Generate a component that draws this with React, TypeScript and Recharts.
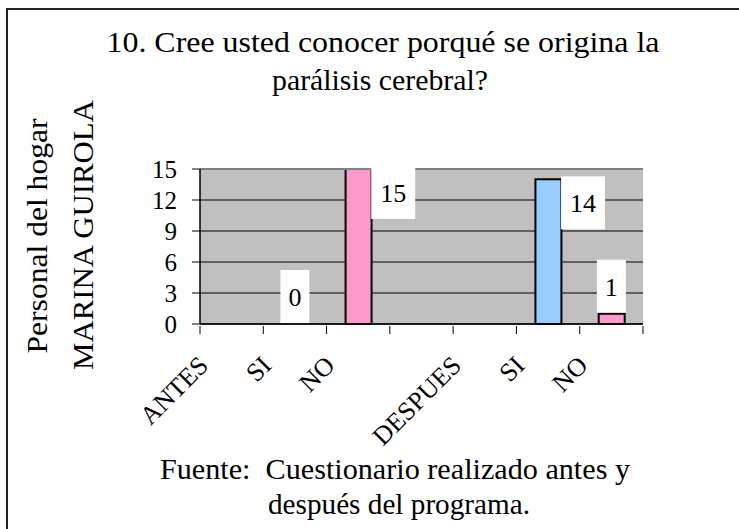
import { Bar, CartesianGrid, Cell, ComposedChart, Line, ReferenceLine, XAxis, YAxis } from "recharts"

const categories = ["ANTES", "SI", "NO", "", "DESPUES", "SI", "NO"]
const counts = [null, 0, 15, null, null, 14, 1]
const yTicks = [0, 3, 6, 9, 12, 15]
const answerColors: Record<string, string> = { SI: "#99CCFF", NO: "#FF99CC" }

const titleLines = ["10. Cree usted conocer porqué se origina la", "parálisis cerebral?"]
const yTitleLines = ["Personal del hogar", "MARINA GUIROLA"]
const sourceLines = ["Fuente:  Cuestionario realizado antes y", "después del programa."]

const data = categories.map((name, i) => ({ name, value: counts[i] }))

const W = 739
const H = 529
const PLOT_LEFT = 200
const PLOT_RIGHT = 643
const PLOT_TOP = 169
const PLOT_BOTTOM = 324
const BAND = (PLOT_RIGHT - PLOT_LEFT) / categories.length
const BAR = 26
const FONT = "'Liberation Serif', 'Times New Roman', serif"
const serif = { fontFamily: FONT, whiteSpace: "pre" as const }

// etiquetas del eje X giradas, con marcas entre categorias
const CategoryTick = ({ x, y, payload, index }: any) => {
  const half = BAND / 2
  return (
    <g>
      <line x1={x - half} x2={x - half} y1={y} y2={y + 8} stroke="#000" />
      {index === categories.length - 1 && (
        <line x1={x + half} x2={x + half} y1={y} y2={y + 8} stroke="#000" />
      )}
      <text
        x={x - 22}
        y={y + 41}
        transform={`rotate(-45 ${x - 22} ${y + 41})`}
        textAnchor="end"
        fontSize={26}
        style={serif}
        fill="#000"
      >
        {payload.value}
      </text>
    </g>
  )
}

// caja blanca con el valor, dibujada en el punto de cada barra
const ValueLabel = ({ cx, cy, value }: any) => {
  if (value == null || cx == null || cy == null) return null
  const digits = String(value).length
  const boxW = 14 + 15 * digits
  const boxH = 53
  let bx: number
  let by: number
  if (value >= 10) {
    bx = cx + BAR / 2
    by = cy - 3
  } else {
    bx = cx - boxW / 2
    by = cy - boxH - 1
  }
  return (
    <g>
      <rect x={bx} y={by} width={boxW} height={boxH} fill="#fff" />
      <text
        x={bx + boxW / 2}
        y={by + boxH / 2}
        dy="0.36em"
        textAnchor="middle"
        fontSize={26}
        style={serif}
        fill="#000"
      >
        {value}
      </text>
    </g>
  )
}

export default function App() {
  return (
    <div style={{ position: "absolute", left: 0, top: 0, width: W, height: H, background: "#fff" }}>
      <svg width={W} height={H} style={{ position: "absolute", left: 0, top: 0 }}>
        <rect x={7} y={9} width={W + 10} height={H + 10} fill="none" stroke="#222" strokeWidth={2} />
        <g fontSize={30} fill="#000" textAnchor="middle">
          <text x={383} y={52} style={serif} textLength={553} lengthAdjust="spacingAndGlyphs">
            {titleLines[0]}
          </text>
          <text x={380} y={90} style={serif} textLength={216} lengthAdjust="spacingAndGlyphs">
            {titleLines[1]}
          </text>
          <text
            transform="translate(47 236) rotate(-90)"
            style={serif}
            textLength={235}
            lengthAdjust="spacingAndGlyphs"
          >
            {yTitleLines[0]}
          </text>
          <text
            transform="translate(93 235) rotate(-90)"
            style={serif}
            textLength={270}
            lengthAdjust="spacingAndGlyphs"
          >
            {yTitleLines[1]}
          </text>
          <text x={395} y={479} style={serif} textLength={470} lengthAdjust="spacingAndGlyphs">
            {sourceLines[0]}
          </text>
          <text x={399} y={514} style={serif} textLength={262} lengthAdjust="spacingAndGlyphs">
            {sourceLines[1]}
          </text>
        </g>
      </svg>
      <div style={{ position: "absolute", left: 0, top: 0 }}>
        <ComposedChart
          width={W}
          height={H}
          data={data}
          margin={{ top: PLOT_TOP, right: W - PLOT_RIGHT, bottom: 105, left: 0 }}
        >
          <CartesianGrid vertical={false} stroke="#000" fill="#C0C0C0" fillOpacity={1} />
          <XAxis
            dataKey="name"
            height={H - PLOT_BOTTOM - 105}
            tickSize={0}
            tickLine={false}
            axisLine={{ stroke: "#000", strokeWidth: 1.5 }}
            interval={0}
            tick={<CategoryTick />}
          />
          <YAxis
            width={PLOT_LEFT}
            domain={[0, 15]}
            ticks={yTicks}
            interval={0}
            tickSize={8}
            tickMargin={15}
            axisLine={{ stroke: "#000", strokeWidth: 1.5 }}
            tickLine={{ stroke: "#000" }}
            tick={{ fontSize: 25, fontFamily: FONT, fill: "#000" }}
          />
          <YAxis
            yAxisId="right"
            orientation="right"
            width={0}
            domain={[0, 15]}
            tick={false}
            tickLine={false}
            axisLine={{ stroke: "#808080", strokeWidth: 2 }}
          />
          <ReferenceLine y={15} stroke="#808080" strokeWidth={2} />
          <Bar dataKey="value" barSize={BAR} stroke="#000" strokeWidth={2} isAnimationActive={false}>
            {data.map((d, i) => (
              <Cell key={`cell-${i}`} fill={answerColors[d.name] ?? "#999"} />
            ))}
          </Bar>
          <Line
            dataKey="value"
            stroke="none"
            legendType="none"
            dot={<ValueLabel />}
            activeDot={false}
            isAnimationActive={false}
          />
        </ComposedChart>
      </div>
    </div>
  )
}
